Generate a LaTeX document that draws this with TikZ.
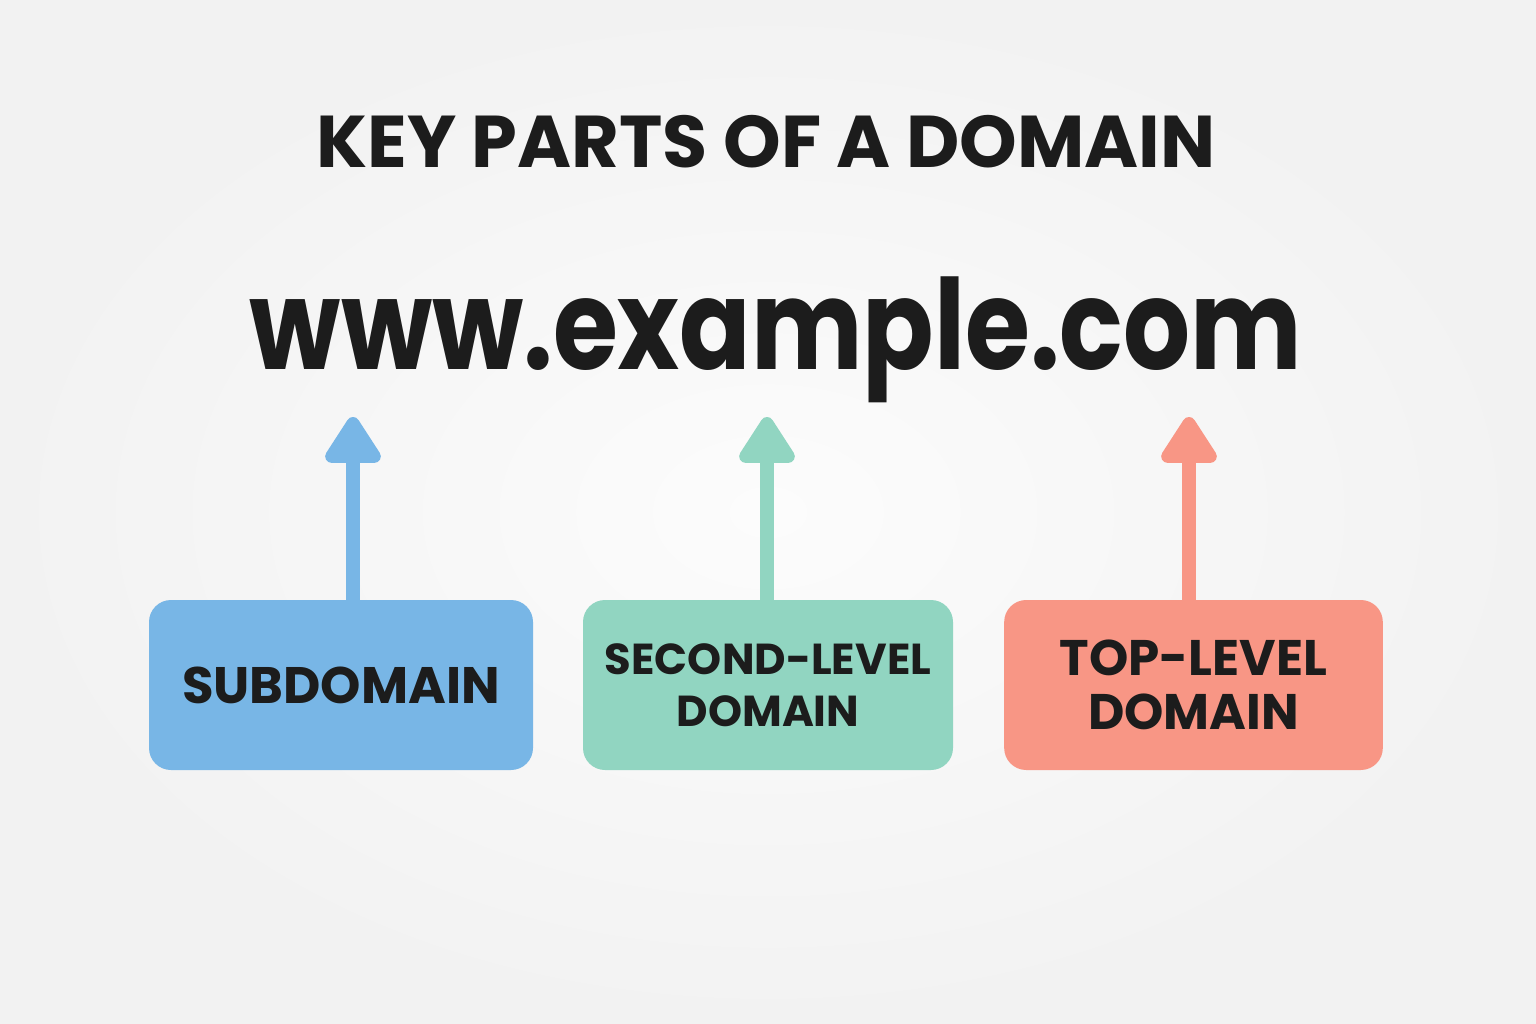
\documentclass[tikz,border=0pt]{standalone}
\usepackage{fontspec}
\setmainfont{Poppins}
\newfontfamily\urlfont{Poppins}[FakeStretch=0.84]
\usetikzlibrary{arrows.meta}
\usepackage{xcolor}

\definecolor{subblue}{RGB}{120,182,230}
\definecolor{sldgreen}{RGB}{145,213,193}
\definecolor{tldred}{RGB}{248,150,133}
\definecolor{inkdark}{RGB}{28,28,28}

\tikzset{
  partbox/.style={rounded corners=16.5pt, minimum width=288pt, minimum height=127.5pt, inner sep=0pt, align=center, text=inkdark, font=\bfseries\fontsize{38.5}{40}\selectfont},
  uparrow/.style={line width=10.5pt, -{Triangle[width=47pt, length=39pt, round]}}
}

\begin{document}
\begin{tikzpicture}[x=0.75pt,y=0.75pt,yscale=-1,xscale=1]
%Background
\shade [inner color={rgb, 255:red, 252; green, 252; blue, 252 }, outer color={rgb, 255:red, 242; green, 242; blue, 242 }] (0,0) rectangle (1536,1024);
\useasboundingbox (0,0) rectangle (1536,1024);

% Title
\node (title) at (766,142) [inner sep=0pt, text=inkdark, font=\bfseries\fontsize{55}{60}\selectfont] {KEY PARTS OF A DOMAIN};
% Domain name
\node (url) at (776,340) [inner sep=0pt, text=inkdark, font=\urlfont\bfseries\fontsize{94}{100}\selectfont] {www.example.com};

%Boxes
\node (sub) at (341,685) [partbox, fill=subblue] {SUBDOMAIN};
\node (sld) at (768,685) [partbox, fill=sldgreen, minimum width=277.5pt, font=\bfseries\fontsize{32.5}{39}\selectfont] {SECOND-LEVEL\\DOMAIN};
\node (tld) at (1193.5,685) [partbox, fill=tldred, minimum width=284pt, font=\bfseries\fontsize{37.5}{40.5}\selectfont] {TOP-LEVEL\\DOMAIN};

%Arrow tips
\coordinate (subtip) at (353,417);
\coordinate (sldtip) at (767,417);
\coordinate (tldtip) at (1189,417);

%Arrows
\draw [uparrow, subblue] (subtip |- sub.north) -- (subtip);
\draw [uparrow, sldgreen] (sldtip |- sld.north) -- (sldtip);
\draw [uparrow, tldred] (tldtip |- tld.north) -- (tldtip);

\end{tikzpicture}
\end{document}
